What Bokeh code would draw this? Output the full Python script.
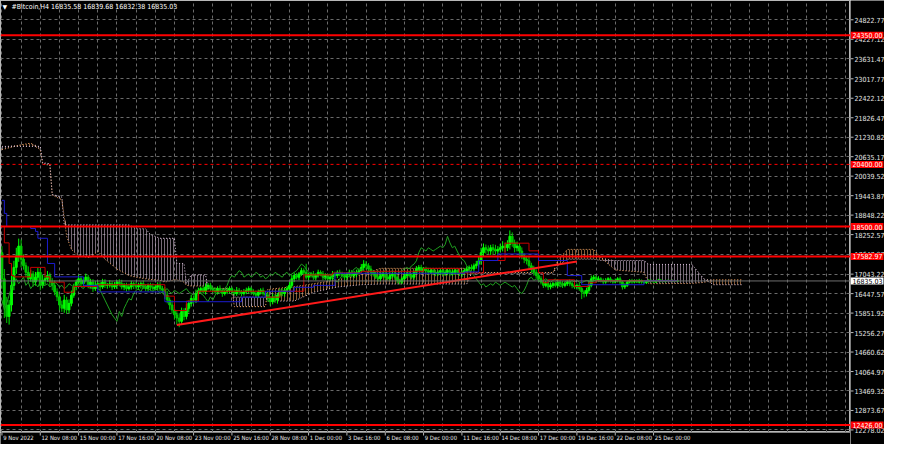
import numpy as np
from bokeh.plotting import figure
from bokeh.models import (Range1d, FixedTicker, Label, ColumnDataSource, Span, Grid)
from bokeh.layouts import column, row
from bokeh.core.properties import value
from bokeh.embed import file_html
from bokeh.resources import INLINE

# ---------------- data ----------------
symbol = "#Bitcoin,H4"
quote = ["16835.58", "16839.68", "16832.38", "16835.03"]

first_open = 17700
closes = [
    16900, 16100, 15750, 16100,
    16700, 17250, 17600, 17900, 17500,
    17300, 17100, 16900, 17050, 16800, 16950, 17100, 16700, 16850,
    16900, 17000, 16800, 16700, 16500, 16350, 16100, 16000, 16250, 15950, 16150, 16400,
    16650, 16800, 16900, 16750, 16850, 16950, 16700, 16800, 16600, 16700, 16750, 16650, 16800, 16700,
    16700, 16750, 16650, 16700, 16800, 16750, 16650, 16700, 16600, 16650, 16750, 16700,
    16650, 16700, 16750, 16650, 16600, 16700, 16650, 16600, 16650, 16700, 16600, 16550,
    16400, 16250, 16100, 15950, 15800, 15700,
    15600, 15900, 15750, 16000, 16150, 16300, 16250, 16450,
    16550, 16600, 16500, 16650, 16700, 16600, 16550, 16500, 16600, 16550,
    16450, 16500, 16550, 16600, 16500, 16450, 16550, 16500, 16450, 16500,
    16550, 16600, 16500, 16450, 16400, 16500, 16550, 16450, 16400,
    16300, 16200, 16350, 16250, 16400, 16500, 16450, 16550, 16600, 16700, 16900, 17000,
    16950, 17050, 17150, 17100, 16950, 17000, 17050, 16950, 17000, 17100,
    17050, 16950, 17000, 16900, 16950, 17050, 17000, 17100, 17050, 17000,
    16950, 17050, 17100, 17000, 17050, 17100, 17150, 17250,
    17350, 17300, 17200, 17100, 17050,
    16950, 16900, 17000, 17050, 16950, 16900, 17000, 17050, 16950, 16850,
    16800, 16900, 17000, 17050, 17000, 16950,
    17100, 17200, 17250, 17150, 17200, 17150, 17100, 17150,
    17100, 17050, 17100, 17150, 17050, 17100, 17150, 17050, 17100, 17150, 17100, 17050, 17100, 17150,
    17200, 17250, 17200, 17300, 17350, 17450, 17700, 17850,
    17800, 17750, 17850, 17800, 17750, 17800, 17850, 17900, 17850, 17950, 18200,
    18000, 17850, 17900, 17750, 17600, 17500, 17450, 17300, 17200, 17100,
    17000, 16900, 16800, 16700, 16750, 16650, 16700, 16750, 16700, 16800,
    16750, 16700, 16750, 16800, 16750, 16700, 16650, 16700, 16600, 16500,
    16450, 16550, 16700,
    16900, 16950, 16850, 16900, 16850, 16800, 16850, 16900, 16850, 16800,
    16850, 16900, 16800, 16650, 16700, 16800, 16850, 16800, 16850, 16800,
    16850, 16800, 16780, 16820, 16850, 16830, 16800, 16840, 16860, 16830,
    16820, 16840, 16850, 16830, 16840, 16830, 16835,
]
# upper / lower shadows beyond the candle body
wick_up = [
    200, 300, 250, 150, 300, 200, 250, 230, 200,
    150, 100, 180, 120, 90, 160, 130, 110, 170, 100, 140, 90, 120, 150, 110, 80, 130, 160, 100, 120, 140,
    100, 80, 120, 90, 60, 110, 70, 100, 90, 130, 80, 60, 100, 90, 70, 110, 80, 100, 60, 90,
    120, 70, 80, 100, 90, 60, 110, 80, 70, 100, 90, 60, 80, 110, 70, 90, 100, 80,
    100, 120, 80, 140, 90, 110, 150, 120, 100, 130, 90, 110, 80, 120,
    80, 60, 90, 110, 70, 80, 60, 90, 70, 100, 60, 80, 90, 70, 60, 80, 100, 70, 60, 90,
    80, 70, 60, 80, 90, 70, 60, 80, 70,
    90, 70, 100, 80, 60, 90, 110, 70, 80, 100, 120, 90,
    80, 60, 90, 70, 250, 80, 60, 90, 70, 80, 60, 90, 70, 60, 80, 90, 70, 60, 80, 70,
    90, 60, 80, 70, 90, 80, 70, 100, 120, 90, 80, 100, 70,
    70, 60, 80, 50, 70, 90, 60, 70, 80, 60, 50, 70, 90, 60, 80, 70, 60, 90, 70, 80,
    60, 70, 90, 60, 70, 80, 60, 70, 50, 80, 60, 70, 90, 60, 70, 80, 60, 70,
    80, 60, 90, 70, 100, 120, 150, 130, 100, 120, 90, 110, 140, 100, 120, 150, 110, 130, 180, 120,
    100, 140, 90, 110, 80, 100, 120, 90, 100,
    90, 70, 80, 60, 90, 70, 80, 60, 70, 90, 60, 80, 70, 60, 90, 70, 80, 60, 90, 70, 60, 80, 150,
    100, 70, 60, 80, 50, 60, 70, 50, 60, 40, 60, 50, 70, 40, 60, 50, 40, 50, 30, 40,
    50, 30, 40, 30, 40, 30, 20, 30, 40, 30, 20, 30, 25, 20, 30, 20, 25,
]
wick_dn = [
    300, 400, 200, 250, 200, 150, 200, 180, 250,
    120, 150, 100, 90, 140, 110, 100, 150, 90, 130, 100, 120, 150, 100, 130, 160, 110, 140, 120, 100, 90,
    80, 100, 70, 90, 110, 60, 90, 80, 100, 70, 90, 110, 60, 80, 100, 70, 90, 60, 110, 80,
    70, 100, 90, 60, 80, 110, 70, 90, 100, 60, 80, 90, 110, 70, 60, 100, 80, 90,
    120, 100, 140, 110, 150, 130, 180, 100, 120, 90, 130, 100, 120, 90,
    70, 90, 60, 80, 100, 70, 90, 60, 80, 70, 100, 60, 70, 90, 80, 60, 70, 90, 80, 60,
    70, 100, 80, 60, 70, 90, 80, 60, 90,
    100, 120, 80, 90, 110, 70, 80, 100, 60, 90, 80, 100,
    70, 90, 60, 80, 70, 90, 60, 80, 100, 60, 70, 90, 80, 60, 70, 90, 60, 80, 70, 60,
    90, 80, 70, 60, 80, 90, 70, 60, 100, 120, 90, 110, 80,
    60, 80, 70, 60, 90, 50, 70, 60, 80, 90, 70, 60, 50, 80, 60, 70, 80, 60, 70, 90,
    60, 80, 70, 60, 90, 70, 60, 80, 70, 60, 90, 70, 60, 80, 70, 60, 90, 70,
    70, 90, 60, 80, 90, 100, 120, 110, 130, 100, 120, 150, 100, 120, 90, 110, 130, 100, 150, 120,
    140, 110, 130, 100, 120, 110, 90, 120, 100,
    80, 90, 70, 80, 60, 90, 70, 80, 60, 70, 90, 80, 60, 70, 80, 90, 60, 80, 70, 100, 120, 90, 80,
    60, 80, 70, 50, 60, 70, 50, 60, 70, 50, 40, 60, 70, 80, 60, 50, 40, 50, 40, 30,
    40, 50, 30, 40, 30, 40, 30, 20, 30, 40, 25, 30, 20, 25, 20, 30, 20,
]
spike_highs = {0: 17900, 5: 17400, 7: 18130, 127: 17360, 151: 17420, 212: 18380, 246: 17000}
spike_lows = {2: 15590, 27: 15850, 73: 15500, 242: 16280, 259: 16580}

tenkan_bars = [0, 1, 3, 4, 5, 12, 18, 20, 26, 30, 40, 68, 72, 77, 82, 110, 116, 126, 138,
               150, 176, 191, 201, 210, 220, 224, 226, 228, 239, 245, 248, 282]
tenkan_vals = [18500, 18000, 17370, 17000, 16960, 17250, 16960, 16800, 16490, 16665, 16720,
               16370, 15930, 16220, 16520, 16340, 16520, 17020, 17080, 17130, 17220, 17080,
               17460, 17990, 17755, 17080, 16780, 16870, 16665, 16780, 16840, 16840]

kijun_bars = [0, 1, 2, 12, 14, 15, 19, 22, 34, 40, 68, 100, 110, 122, 130, 139, 193,
              199, 207, 224, 236, 242, 268, 282]
kijun_vals = [19300, 18900, 18500, 18440, 18350, 18140, 17370, 16960, 16700, 16500, 16200,
              16340, 16520, 16640, 16700, 17070, 17110, 17460, 17660, 17460, 17000, 16720,
              16840, 16840]

cloud_bars = [0, 8, 12, 16, 17, 20, 21, 25, 26, 27, 29, 32, 37, 40, 43, 48, 53, 56, 60, 62,
              66, 68, 72, 73, 76, 77, 79, 85, 86, 96, 97, 110, 111, 122, 130, 140, 150, 158,
              194, 196, 230, 232, 236, 247, 250, 256, 268, 270, 288, 293, 297, 309]
span_a = [20850, 21000, 21050, 20850, 20400, 20380, 19460, 19320, 18800, 18200, 17800, 17600,
          17550, 17750, 17500, 17200, 17000, 16950, 16900, 16880, 16850, 16800, 16870, 16870,
          16800, 16700, 16680, 16680, 16620, 16600, 16050, 16050, 16580, 16660, 16750, 16870,
          17020, 17220, 17220, 17090, 17090, 17460, 17800, 17800, 17550, 17170, 17100, 16750,
          16760, 16790, 16870, 16870]
span_b = [20950, 20950, 20950, 20950, 20450, 20420, 19480, 19400, 18550, 18550, 18550, 18550,
          18550, 18550, 18550, 18550, 18550, 18430, 18430, 18250, 18140, 18140, 18140, 17370,
          17370, 16750, 17020, 17020, 16600, 16580, 16340, 16340, 16220, 16220, 16490, 16650,
          16720, 16740, 16740, 17070, 17070, 17300, 17500, 17500, 17460, 17460, 17460, 17340,
          17340, 16900, 16720, 16720]

level_prices = [24350.00, 20400.00, 18500.00, 17582.97, 12426.00]
level_dashed = [False, True, False, False, False]
last_price = 16835.03
trend_bars = [73, 240]
trend_prices = [15490, 17430]

price_ticks = [24822.77, 24227.12, 23631.47, 23017.77, 22422.12, 21826.47, 21230.82,
               20635.17, 20039.52, 19443.87, 18848.22, 18252.57, 17647.87, 17043.22,
               16447.57, 15851.92, 15256.27, 14660.62, 14064.97, 13469.32, 12873.67, 12278.02]
time_labels = ["9 Nov 2022", "12 Nov 08:00", "15 Nov 00:00", "17 Nov 16:00", "20 Nov 08:00",
               "23 Nov 00:00", "25 Nov 16:00", "28 Nov 08:00", "1 Dec 00:00", "3 Dec 16:00",
               "6 Dec 08:00", "9 Dec 00:00", "11 Dec 16:00", "14 Dec 08:00", "17 Dec 00:00",
               "19 Dec 16:00", "22 Dec 08:00", "25 Dec 00:00"]
bars_per_label = 16
bars_per_grid = 8

# ---------------- layout / style ----------------
W, H = 884, 444
RW, BH = 34, 12
FW, FH = W - RW, H - BH
X0, X1 = -0.6, 354.2
Y0, Y1 = 12200.0, 25412.0
FONT = "Liberation Sans Narrow, DejaVu Sans Condensed, Liberation Sans"
FS = "7px"
FS_T = "5.9px"
ppx = (Y1 - Y0) / FH
bpx = (X1 - X0) / FW
FG = "#b8b8b8"
TXT = "#e6e6e6"


def bare(width, height, x_range, y_range):
    f = figure(width=width, height=height, x_range=x_range, y_range=y_range,
               output_backend="svg", toolbar_location=None,
               x_axis_location=None, y_axis_location=None,
               background_fill_color="black", border_fill_color="black",
               min_border_left=0, min_border_top=0, min_border_bottom=0, min_border_right=0)
    f.grid.visible = False
    f.outline_line_color = None
    return f


p = bare(FW, FH, Range1d(X0, X1), Range1d(Y0, Y1))
p.outline_line_color = FG

grid_bars = list(range(0, 356, bars_per_grid))
p.add_layout(Grid(dimension=0, ticker=FixedTicker(ticks=grid_bars), grid_line_color="#6a6a6a",
                  grid_line_dash="3 3", grid_line_width=1))
p.add_layout(Grid(dimension=1, ticker=FixedTicker(ticks=price_ticks), grid_line_color="#6a6a6a",
                  grid_line_dash="3 3", grid_line_width=1))

# Ichimoku cloud
A = np.array(span_a, float)
B = np.array(span_b, float)
top = np.maximum(A, B)
p.varea(x=cloud_bars, y1=B, y2=top, fill_alpha=0, hatch_pattern="vertical_line",
        hatch_color="#f4a460", hatch_alpha=0.55, hatch_scale=3, hatch_weight=1)
p.varea(x=cloud_bars, y1=A, y2=top, fill_alpha=0, hatch_pattern="vertical_line",
        hatch_color="#d8bfd8", hatch_alpha=0.55, hatch_scale=3, hatch_weight=1)
p.line(cloud_bars, span_a, line_color="#f4a460", line_dash="1 2", line_width=1)
p.line(cloud_bars, span_b, line_color="#d8bfd8", line_dash="1 2", line_width=1)

# candles
N = len(closes)
bars = np.arange(N)
cl = np.array(closes, float)
op = np.array([first_open] + closes[:-1], float)
body_t = np.maximum(op, cl)
body_b = np.minimum(op, cl)
hi = body_t + np.array(wick_up, float)
lo = body_b - np.array(wick_dn, float)
for b, v in spike_highs.items():
    hi[b] = max(hi[b], v)
for b, v in spike_lows.items():
    lo[b] = min(lo[b], v)
up = cl >= op
col = np.where(up, "#00ff00", "#00c800")
src = ColumnDataSource(dict(x=bars, hi=hi, lo=lo, t=body_t, b=body_b, c=col))
p.segment(x0="x", y0="hi", x1="x", y1="lo", source=src, line_color="c", line_width=1)
p.vbar(x="x", width=0.75, top="t", bottom="b", source=src, fill_color="c", line_color="c")

# indicator lines
p.line(bars[26:] - 26, cl[26:], line_color="#1fa01f", line_width=1)
p.step(tenkan_bars, tenkan_vals, mode="after", line_color="#c80000", line_width=1)
p.step(kijun_bars, kijun_vals, mode="after", line_color="#1c1cd0", line_width=1)

# horizontal levels
for lv, dash in zip(level_prices, level_dashed):
    p.add_layout(Span(location=lv, dimension="width", line_color="#ff0000",
                      line_width=1 if dash else 2, line_dash="3 3" if dash else "solid"))
p.add_layout(Span(location=last_price, dimension="width", line_color="#6e6e6e", line_width=1))

# trend line
p.line(trend_bars, trend_prices, line_color="#ff1a1a", line_width=2)

# title
p.add_layout(Label(x=X0 + 2 * bpx, y=Y1 - 6 * ppx, text="\u25bc", text_color="white",
                   text_font="DejaVu Sans", text_font_size="6px", text_baseline="middle"))
p.add_layout(Label(x=X0 + 11 * bpx, y=Y1 - 6 * ppx,
                   text=symbol + "  " + " ".join(quote), text_color="white",
                   text_font=FONT, text_font_size=FS, text_baseline="middle"))

# ---------------- right price scale (full height) ----------------
pr = bare(RW, H, Range1d(0, RW), Range1d(Y0 - BH * ppx, Y1))
pr.segment(x0=[0] * len(price_ticks), y0=price_ticks, x1=[3] * len(price_ticks), y1=price_ticks,
           line_color=FG, line_width=1)
pr.text(x=[4] * len(price_ticks), y=price_ticks, text=["%.2f" % t for t in price_ticks],
        text_color=TXT, text_font=value(FONT), text_font_size=FS,
        text_baseline="middle", text_align="left")
box_prices = level_prices + [last_price]
box_fill = ["#ff0000"] * len(level_prices) + ["#ffffff"]
box_text = ["#ffffff"] * len(level_prices) + ["#000000"]
pr.quad(left=[0] * len(box_prices), right=[RW - 1] * len(box_prices),
        top=[v + 3.5 * ppx for v in box_prices], bottom=[v - 3.5 * ppx for v in box_prices],
        fill_color=box_fill, line_color=None)
pr.text(x=[2] * len(box_prices), y=box_prices, text=["%.2f" % v for v in box_prices],
        text_color=box_text, text_font=value(FONT), text_font_size=FS,
        text_baseline="middle", text_align="left")

# ---------------- bottom time scale ----------------
pb = bare(FW, BH, Range1d(X0, X1), Range1d(0, BH))
lbl_bars = [i * bars_per_label for i in range(len(time_labels))]
pb.segment(x0=lbl_bars, y0=[BH] * len(lbl_bars), x1=lbl_bars, y1=[BH - 3] * len(lbl_bars),
           line_color=FG, line_width=1)
pb.text(x=[b + 1.2 * bpx for b in lbl_bars], y=[BH - 2] * len(lbl_bars), text=time_labels,
        text_color=TXT, text_font=value(FONT), text_font_size=FS_T,
        text_baseline="top", text_align="left")

layout = row(column(p, pb), pr)
open("out.html", "w").write(file_html(layout, INLINE))
